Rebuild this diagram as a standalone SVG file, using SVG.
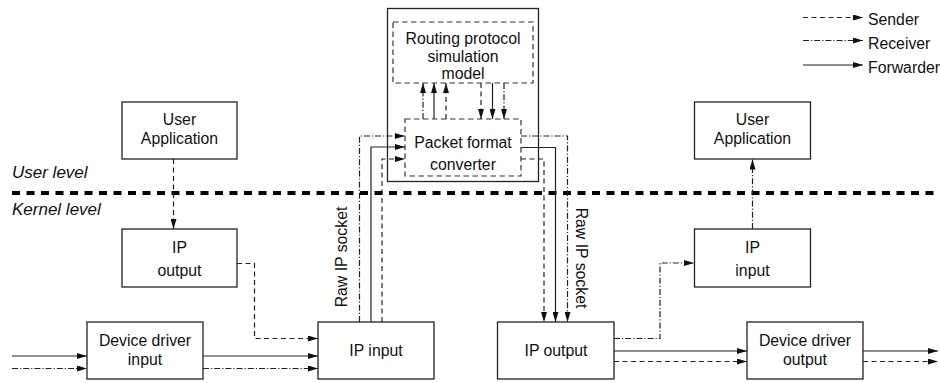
<svg xmlns="http://www.w3.org/2000/svg" width="940" height="383" viewBox="0 0 940 383">
<defs>
<marker id="ah" markerUnits="userSpaceOnUse" markerWidth="10" markerHeight="6" refX="10" refY="3" orient="auto">
<path d="M0,0 L10,3 L0,6 z" fill="#111"/>
</marker>
<style>
.box{fill:#fff;stroke:#222;stroke-width:1.3}
.dbox{fill:none;stroke:#333;stroke-width:1.2;stroke-dasharray:5.5 3.5}
.t{font-family:"Liberation Sans",Arial,sans-serif;font-size:15.8px;fill:#111;text-anchor:middle}
.lv{font-family:"Liberation Sans",Arial,sans-serif;font-size:17px;font-style:italic;fill:#111}
.lg{font-family:"Liberation Sans",Arial,sans-serif;font-size:15.8px;fill:#111}
.c{fill:none;stroke:#222;stroke-width:1.2}
.snd{stroke-dasharray:5 3.5}
.rcv{stroke-dasharray:6 2 1.2 2}
.arr{marker-end:url(#ah)}
</style>
</defs>
<rect width="940" height="383" fill="#fff"/>

<g id="levels">
<line x1="12" y1="193" x2="940" y2="193" stroke="#000" stroke-width="4" stroke-dasharray="8 6.5"/>
<text class="lv" x="12" y="178">User level</text>
<text class="lv" x="12" y="215">Kernel level</text>
</g>

<g id="legend">
<line class="c snd arr" x1="803" y1="17.5" x2="863" y2="17.5"/>
<text class="lg" x="868" y="25">Sender</text>
<line class="c rcv arr" x1="803" y1="40.5" x2="863" y2="40.5"/>
<text class="lg" x="868" y="49">Receiver</text>
<line class="c arr" x1="803" y1="65" x2="863" y2="65"/>
<text class="lg" x="868" y="73">Forwarder</text>
</g>

<g id="routing-container">
<rect x="387.5" y="8.5" width="151" height="173" fill="none" stroke="#222" stroke-width="1.3"/>
</g>

<g id="connectors">
<path class="c snd arr" d="M173.5,159 V229"/>
<path class="c snd arr" d="M237,263.5 H254.5 V338.5 H318"/>
<path class="c arr" d="M12,356 H87"/>
<path class="c rcv arr" d="M12,368.5 H87"/>
<path class="c arr" d="M203,356 H318"/>
<path class="c rcv arr" d="M203,368.5 H318"/>
<path class="c rcv arr" d="M359.5,322 V136 H405"/>
<path class="c arr" d="M371,322 V147 H405"/>
<path class="c snd arr" d="M382,322 V159 H405"/>
<path class="c rcv arr" d="M423,119 V83"/>
<path class="c arr" d="M434,119 V83"/>
<path class="c snd arr" d="M446,119 V83"/>
<path class="c snd arr" d="M481,83 V119"/>
<path class="c arr" d="M492.5,83 V119"/>
<path class="c rcv arr" d="M504,83 V119"/>
<path class="c rcv arr" d="M521,136 H567.5 V322"/>
<path class="c arr" d="M521,147.5 H555.5 V322"/>
<path class="c snd arr" d="M521,159 H544 V322"/>
<path class="c rcv arr" d="M614,338.5 H660 V263 H694"/>
<path class="c rcv arr" d="M752.5,229 V159.5"/>
<path class="c arr" d="M614,351 H747"/>
<path class="c snd arr" d="M614,361.5 H747"/>
<path class="c arr" d="M863,351 H938"/>
<path class="c snd arr" d="M863,361.5 H938"/>
</g>

<g id="routing-model">
<rect class="dbox" x="393" y="22" width="140" height="61"/>
<text class="t" x="463" y="44">Routing protocol</text>
<text class="t" x="463" y="62">simulation</text>
<text class="t" x="463" y="79">model</text>
</g>

<g id="packet-converter">
<rect class="dbox" x="405" y="119" width="116" height="57"/>
<text class="t" x="463" y="148">Packet format</text>
<text class="t" x="463" y="170">converter</text>
</g>

<g id="user-app-left">
<rect class="box" x="122" y="102" width="115" height="57"/>
<text class="t" x="179.5" y="125">User</text>
<text class="t" x="179.5" y="144">Application</text>
</g>

<g id="ip-output-left">
<rect class="box" x="122" y="229" width="115" height="58"/>
<text class="t" x="179.5" y="253">IP</text>
<text class="t" x="179.5" y="276">output</text>
</g>

<g id="device-driver-input">
<rect class="box" x="87" y="322" width="116" height="57"/>
<text class="t" x="145" y="346">Device driver</text>
<text class="t" x="145" y="365">input</text>
</g>

<g id="ip-input-left">
<rect class="box" x="318" y="322" width="116" height="57"/>
<text class="t" x="376" y="356">IP input</text>
</g>

<g id="ip-output-right">
<rect class="box" x="497.5" y="322" width="116.5" height="57"/>
<text class="t" x="556" y="356">IP output</text>
</g>

<g id="user-app-right">
<rect class="box" x="694.5" y="102" width="116" height="57"/>
<text class="t" x="752.5" y="125">User</text>
<text class="t" x="752.5" y="144">Application</text>
</g>

<g id="ip-input-right">
<rect class="box" x="694.5" y="229" width="116" height="58"/>
<text class="t" x="752.5" y="253">IP</text>
<text class="t" x="752.5" y="276">input</text>
</g>

<g id="device-driver-output">
<rect class="box" x="747" y="322" width="116" height="57"/>
<text class="t" x="805" y="346">Device driver</text>
<text class="t" x="805" y="365">output</text>
</g>

<g id="socket-labels">
<text class="t" transform="translate(347,257) rotate(-90)">Raw IP socket</text>
<text class="t" transform="translate(576,258) rotate(90)">Raw IP socket</text>
</g>
</svg>
